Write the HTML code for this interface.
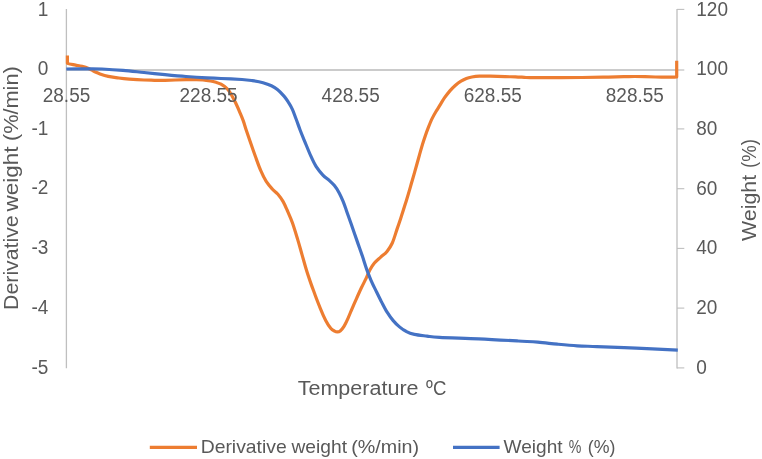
<!DOCTYPE html>
<html lang="en">
<head>
<meta charset="utf-8">
<title>TGA / DTG chart</title>
<style>
html,body{margin:0;padding:0;background:#fff;}
body{width:762px;height:459px;overflow:hidden;position:relative;}
</style>
</head>
<body>
<svg width="762" height="459" viewBox="0 0 762 459" style="display:block;position:absolute;left:0;top:0" font-family="'Liberation Sans', sans-serif" fill="#595959">
<rect width="762" height="459" fill="#ffffff"/>
<g stroke="#bfbfbf" stroke-width="1.3" fill="none">
<line x1="66.4" y1="9.1" x2="66.4" y2="368.3"/>
<line x1="677.0" y1="8.9" x2="677.0" y2="368.4"/>
<line x1="66.4" y1="70" x2="677.0" y2="70" stroke="#bababa" stroke-width="1.7"/>
<line x1="677.0" y1="70" x2="684.3" y2="70" stroke-width="1.2"/>
<line x1="677.0" y1="9.4" x2="684.3" y2="9.4" stroke-width="1.1"/>
<line x1="677.0" y1="128.9" x2="684.3" y2="128.9" stroke-width="1.1"/>
<line x1="677.0" y1="188.7" x2="684.3" y2="188.7" stroke-width="1.1"/>
<line x1="677.0" y1="248.4" x2="684.3" y2="248.4" stroke-width="1.1"/>
<line x1="677.0" y1="308.1" x2="684.3" y2="308.1" stroke-width="1.1"/>
<line x1="677.0" y1="367.9" x2="684.3" y2="367.9" stroke-width="1.1"/>
</g>
<path d="M67.4 55.4L67.4 63.2L70.0 64.0C71.4 64.3 73.6 64.7 75.6 65.1C77.6 65.5 80.1 65.9 82.1 66.4C84.1 66.9 85.9 67.3 87.4 67.9C88.9 68.5 89.9 69.2 91.3 69.9C92.7 70.6 94.5 71.6 96.0 72.3C97.5 73.0 98.0 73.2 100.0 73.9C102.0 74.6 105.2 75.7 108.3 76.4C111.4 77.1 115.3 77.5 118.8 78.0C122.3 78.5 125.1 78.8 129.3 79.1C133.5 79.4 139.8 79.8 144.0 80.0C148.2 80.2 151.0 80.2 154.5 80.3C158.0 80.3 161.5 80.3 165.0 80.3C168.5 80.2 172.0 80.1 175.5 80.0C179.0 79.9 182.5 79.8 186.0 79.7C189.5 79.7 193.7 79.7 196.5 79.7C199.3 79.7 200.7 79.7 203.0 79.9C205.3 80.1 208.3 80.6 210.5 81.0C212.7 81.4 214.2 81.8 216.0 82.3C217.8 82.8 219.1 83.1 221.0 84.2C222.9 85.3 225.6 87.0 227.3 88.8C229.1 90.6 230.2 92.8 231.5 95.0C232.8 97.2 233.9 99.4 235.2 102.0C236.4 104.6 237.7 107.2 239.0 110.4C240.3 113.6 242.1 117.6 243.3 120.9C244.5 124.2 245.0 126.4 246.2 130.0C247.4 133.6 248.9 138.0 250.5 142.6C252.1 147.2 254.0 152.6 255.7 157.3C257.4 162.0 259.1 166.9 260.9 170.9C262.6 174.9 264.3 178.4 266.2 181.4C268.1 184.4 270.6 187.1 272.5 189.2C274.4 191.3 275.9 192.0 277.7 194.0C279.4 196.0 281.4 198.7 283.0 201.4C284.6 204.2 285.7 206.9 287.3 210.5C288.9 214.1 290.8 218.2 292.5 223.1C294.2 228.0 296.2 234.7 297.8 239.9C299.4 245.2 300.6 249.7 302.0 254.6C303.4 259.5 304.8 264.6 306.2 269.3C307.6 274.0 309.1 278.3 310.6 282.6C312.1 286.9 313.6 290.8 315.2 295.2C316.8 299.6 318.8 304.6 320.5 308.8C322.2 313.0 324.0 317.1 325.7 320.4C327.4 323.7 329.4 326.6 330.9 328.4C332.4 330.2 333.5 330.5 334.6 331.1C335.7 331.7 336.4 331.8 337.3 331.8C338.2 331.8 339.1 331.8 340.2 330.9C341.3 330.0 342.7 328.4 344.0 326.3C345.3 324.2 346.7 321.2 348.0 318.3C349.3 315.4 350.6 312.1 352.0 308.8C353.4 305.5 355.0 301.8 356.6 298.3C358.2 294.8 359.8 291.1 361.4 287.8C363.0 284.5 364.7 281.3 366.1 278.4C367.5 275.5 368.3 272.8 369.7 270.2C371.1 267.6 372.6 265.2 374.4 263.0C376.2 260.8 378.6 259.0 380.7 257.1C382.8 255.2 385.1 253.8 387.0 251.4C388.9 249.1 390.6 246.8 392.3 243.0C394.0 239.2 395.7 233.0 397.3 228.4C398.9 223.8 400.2 219.8 401.7 215.3C403.2 210.8 404.6 206.2 406.1 201.4C407.6 196.6 409.1 191.6 410.5 186.6C411.9 181.6 413.4 176.8 414.8 171.7C416.2 166.6 417.7 161.2 419.1 156.2C420.5 151.2 421.9 146.1 423.4 141.5C424.9 136.9 426.4 132.4 427.9 128.6C429.4 124.8 430.8 121.2 432.2 118.4C433.6 115.6 434.8 113.5 436.0 111.5C437.2 109.5 437.8 108.7 439.2 106.4C440.6 104.1 442.8 100.3 444.6 97.7C446.4 95.1 448.3 92.7 450.1 90.6C451.9 88.5 453.7 86.8 455.5 85.2C457.3 83.6 459.2 82.2 461.0 81.1C462.8 80.0 464.6 79.1 466.4 78.4C468.2 77.7 469.7 77.4 471.9 77.0C474.1 76.6 476.4 76.3 479.5 76.2C482.6 76.1 486.1 76.1 490.4 76.2C494.6 76.3 500.8 76.6 505.0 76.7C509.2 76.8 512.0 76.7 515.5 76.8C519.0 76.9 522.5 77.3 526.0 77.5C529.5 77.7 533.0 77.7 536.5 77.7C540.0 77.7 542.9 77.7 547.0 77.7C551.1 77.7 555.2 77.6 561.0 77.6C566.8 77.6 575.0 77.6 582.0 77.5C589.0 77.4 596.0 77.3 603.0 77.2C610.0 77.1 618.8 76.8 624.0 76.7C629.2 76.6 631.0 76.5 634.5 76.5C638.0 76.5 641.5 76.6 645.0 76.7C648.5 76.8 652.0 76.9 655.5 77.0C659.0 77.1 662.9 77.2 666.0 77.2C669.1 77.2 672.6 77.1 674.4 77.1L676.7 76.9L676.7 60.8" fill="none" stroke="#ed7d31" stroke-width="3.2" stroke-linejoin="round" stroke-linecap="butt"/>
<path d="M66.3 69.0C69.8 69.0 81.3 68.8 87.3 68.8C93.2 68.8 96.0 68.7 102.0 69.0C108.0 69.3 116.0 69.8 123.0 70.4C130.0 71.0 137.0 71.8 144.0 72.5C151.0 73.2 158.0 73.9 165.0 74.6C172.0 75.3 179.0 76.0 186.0 76.5C193.0 77.0 201.2 77.5 207.0 77.8C212.8 78.1 215.2 78.2 221.0 78.5C226.8 78.8 236.8 79.2 242.0 79.5C247.2 79.8 249.0 80.1 252.5 80.6C256.0 81.1 259.9 81.8 263.0 82.7C266.1 83.6 268.9 84.6 271.4 85.8C273.8 87.0 275.6 88.1 277.7 89.8C279.8 91.5 282.2 94.1 284.0 96.1C285.8 98.1 286.8 99.8 288.2 102.0C289.6 104.2 291.1 106.5 292.4 109.3C293.7 112.1 294.7 115.4 296.0 118.8C297.3 122.2 298.5 125.7 300.0 129.7C301.5 133.7 303.4 138.2 305.2 142.6C307.0 147.0 309.1 152.2 310.9 156.2C312.7 160.2 314.2 163.5 316.2 166.7C318.2 169.8 320.7 172.8 322.9 175.1C325.1 177.4 327.3 178.7 329.2 180.4C331.1 182.2 332.7 183.5 334.4 185.6C336.1 187.7 337.8 190.4 339.2 193.0C340.6 195.6 341.9 198.5 343.1 201.4C344.3 204.3 345.0 206.4 346.3 210.2C347.6 214.0 349.5 219.1 351.2 224.1C352.9 229.1 354.9 234.7 356.7 239.9C358.5 245.2 360.5 250.6 362.2 255.6C363.9 260.6 365.3 265.5 366.8 269.6C368.3 273.7 369.4 276.6 371.0 280.3C372.6 284.0 374.9 288.5 376.6 292.0C378.3 295.5 379.6 298.1 381.3 301.5C383.1 304.9 385.1 309.0 387.1 312.2C389.1 315.4 391.1 318.2 393.2 320.6C395.3 323.1 397.4 325.1 399.5 326.9C401.6 328.7 403.5 330.1 406.0 331.3C408.5 332.6 410.9 333.6 414.4 334.4C417.9 335.2 422.8 335.6 427.0 336.1C431.2 336.6 430.9 336.9 439.5 337.3C448.1 337.8 465.6 338.2 478.7 338.8C491.8 339.4 508.2 340.4 518.1 341.0C528.0 341.6 531.2 341.7 537.8 342.2C544.4 342.7 550.9 343.6 557.5 344.2C564.1 344.8 570.6 345.4 577.2 345.8C583.8 346.2 587.1 346.2 596.9 346.6C606.7 347.0 622.7 347.5 636.2 348.1C649.7 348.7 670.9 349.8 677.8 350.1" fill="none" stroke="#4472c4" stroke-width="3.2" stroke-linejoin="round" stroke-linecap="butt"/>
<text x="37.7" y="15.8" font-size="19.4" textLength="10.6" lengthAdjust="spacingAndGlyphs">1</text>
<text x="37.7" y="74.9" font-size="19.4" textLength="10.6" lengthAdjust="spacingAndGlyphs">0</text>
<text x="31.4" y="134.6" font-size="19.4" textLength="16.9" lengthAdjust="spacingAndGlyphs">-1</text>
<text x="31.4" y="194.3" font-size="19.4" textLength="16.9" lengthAdjust="spacingAndGlyphs">-2</text>
<text x="31.4" y="254.1" font-size="19.4" textLength="16.9" lengthAdjust="spacingAndGlyphs">-3</text>
<text x="31.4" y="313.8" font-size="19.4" textLength="16.9" lengthAdjust="spacingAndGlyphs">-4</text>
<text x="31.4" y="373.6" font-size="19.4" textLength="16.9" lengthAdjust="spacingAndGlyphs">-5</text>
<text x="696.3" y="15.9" font-size="19.4" textLength="31.7" lengthAdjust="spacingAndGlyphs">120</text>
<text x="696.3" y="75.0" font-size="19.4" textLength="31.7" lengthAdjust="spacingAndGlyphs">100</text>
<text x="696.3" y="134.7" font-size="19.4" textLength="21.1" lengthAdjust="spacingAndGlyphs">80</text>
<text x="696.3" y="194.5" font-size="19.4" textLength="21.1" lengthAdjust="spacingAndGlyphs">60</text>
<text x="696.3" y="254.2" font-size="19.4" textLength="21.1" lengthAdjust="spacingAndGlyphs">40</text>
<text x="696.3" y="313.9" font-size="19.4" textLength="21.1" lengthAdjust="spacingAndGlyphs">20</text>
<text x="696.3" y="373.7" font-size="19.4" textLength="10.6" lengthAdjust="spacingAndGlyphs">0</text>
<text x="42.7" y="101.8" font-size="19.4" textLength="47.6" lengthAdjust="spacingAndGlyphs">28.55</text>
<text x="179.5" y="101.8" font-size="19.4" textLength="58.1" lengthAdjust="spacingAndGlyphs">228.55</text>
<text x="321.6" y="101.8" font-size="19.4" textLength="58.1" lengthAdjust="spacingAndGlyphs">428.55</text>
<text x="463.7" y="101.8" font-size="19.4" textLength="58.1" lengthAdjust="spacingAndGlyphs">628.55</text>
<text x="605.8" y="101.8" font-size="19.4" textLength="58.1" lengthAdjust="spacingAndGlyphs">828.55</text>
<text transform="translate(18.3 0) rotate(-90)" font-size="20"><tspan x="-309.9" y="0" textLength="94.6" lengthAdjust="spacingAndGlyphs">Derivative</tspan> <tspan x="-211.4" y="0" textLength="64.9" lengthAdjust="spacingAndGlyphs">weight</tspan> <tspan x="-141.1" y="0" textLength="74.8" lengthAdjust="spacingAndGlyphs">(%/min)</tspan></text>
<text transform="translate(756.2 0) rotate(-90)" font-size="20"><tspan x="-241.0" y="0" textLength="66.1" lengthAdjust="spacingAndGlyphs">Weight</tspan> <tspan x="-167.9" y="0" textLength="28.9" lengthAdjust="spacingAndGlyphs">(%)</tspan></text>
<text font-size="20"><tspan x="297.7" y="395.4" textLength="120.9" lengthAdjust="spacingAndGlyphs">Temperature</tspan> <tspan x="426.1" y="395.4" textLength="20.2" lengthAdjust="spacingAndGlyphs">ºC</tspan></text>
<line x1="149.8" y1="447.4" x2="197" y2="447.4" stroke="#ed7d31" stroke-width="3.2"/>
<text font-size="19"><tspan x="200.7" y="453" textLength="86.0" lengthAdjust="spacingAndGlyphs">Derivative</tspan> <tspan x="291.5" y="453" textLength="55.5" lengthAdjust="spacingAndGlyphs">weight</tspan> <tspan x="351.3" y="453" textLength="67.8" lengthAdjust="spacingAndGlyphs">(%/min)</tspan></text>
<line x1="453" y1="447.4" x2="499.6" y2="447.4" stroke="#4472c4" stroke-width="3.2"/>
<text font-size="19"><tspan x="503.6" y="453" textLength="59.0" lengthAdjust="spacingAndGlyphs">Weight</tspan> <tspan x="568.7" y="453" textLength="12.6" lengthAdjust="spacingAndGlyphs">%</tspan> <tspan x="587.8" y="453" textLength="27.6" lengthAdjust="spacingAndGlyphs">(%)</tspan></text>
</svg>
</body>
</html>
